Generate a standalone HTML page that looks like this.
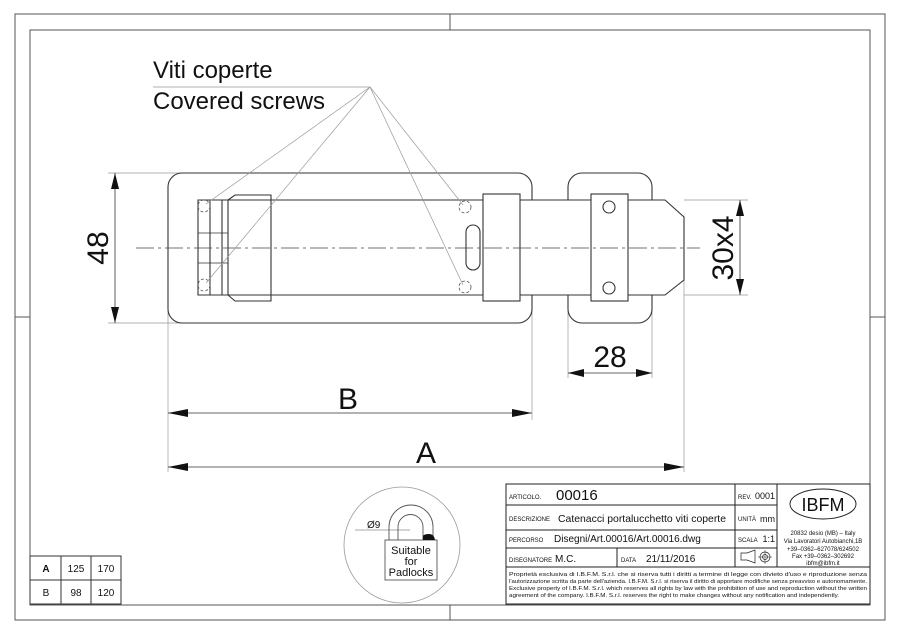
<!DOCTYPE html>
<html><head><meta charset="utf-8"><style>
html,body{margin:0;padding:0;background:#fff}
svg{display:block}
text{font-family:"Liberation Sans",sans-serif;fill:#111}
</style></head><body>
<svg width="900" height="635" viewBox="0 0 900 635" xmlns="http://www.w3.org/2000/svg">
<g fill="none" stroke="#555" stroke-width="1">
<rect x="15" y="14" width="870" height="606"/>
<rect x="30" y="30" width="840" height="575"/>
<line x1="450" y1="14" x2="450" y2="30"/><line x1="450" y1="605" x2="450" y2="620"/>
<line x1="15" y1="317" x2="30" y2="317"/><line x1="870" y1="317" x2="885" y2="317"/>
</g>
<!-- labels -->
<text x="153" y="78" font-size="24">Viti coperte</text>
<text x="153" y="109" font-size="24">Covered screws</text>
<!-- extension / dim lines -->
<g stroke="#999" stroke-width="0.7">
<line x1="108" y1="173" x2="182" y2="173"/><line x1="108" y1="323" x2="182" y2="323"/>
<line x1="684" y1="200" x2="748" y2="200"/><line x1="684" y1="295" x2="748" y2="295"/>
<line x1="168" y1="310" x2="168" y2="472"/><line x1="532" y1="310" x2="532" y2="420"/>
<line x1="568" y1="310" x2="568" y2="378"/><line x1="652" y1="310" x2="652" y2="378"/>
<line x1="684" y1="280" x2="684" y2="472"/>
</g>
<g stroke="#333" stroke-width="0.8">
<line x1="115" y1="173" x2="115" y2="323"/>
<line x1="740" y1="200" x2="740" y2="295"/>
<line x1="568" y1="373" x2="652" y2="373"/>
<line x1="168" y1="413" x2="532" y2="413"/>
<line x1="168" y1="467" x2="684" y2="467"/>
</g>
<g fill="#111">
<polygon points="115,173 111,189 119,189"/><polygon points="115,323 111,307 119,307"/>
<polygon points="740,200 736,216 744,216"/><polygon points="740,295 736,279 744,279"/>
<polygon points="568,373 584,369 584,377"/><polygon points="652,373 636,369 636,377"/>
<polygon points="168,413 188,409 188,417"/><polygon points="532,413 512,409 512,417"/>
<polygon points="168,467 188,463 188,471"/><polygon points="684,467 664,463 664,471"/>
</g>
<text x="0" y="0" font-size="30" text-anchor="middle" transform="translate(108,248) rotate(-90)">48</text>
<text x="0" y="0" font-size="30" text-anchor="middle" transform="translate(733,248) rotate(-90)">30x4</text>
<text x="610" y="367" font-size="30" text-anchor="middle">28</text>
<text x="348" y="409" font-size="30" text-anchor="middle">B</text>
<text x="426" y="463" font-size="30" text-anchor="middle">A</text>
<!-- part -->
<g fill="none" stroke="#333" stroke-width="1.1">
<rect x="168" y="173" width="364" height="150" rx="14"/>
<rect x="568" y="173" width="84" height="150" rx="14"/>
</g>
<g fill="#fff" stroke="#333" stroke-width="1.1">
<polygon points="198,200 665,200 684,217 684,280 665,295 198,295"/>
</g>
<g fill="none" stroke="#333" stroke-width="1.1">
<line x1="210" y1="200" x2="210" y2="295"/>
<line x1="222" y1="200" x2="222" y2="295"/>
<line x1="228" y1="200" x2="228" y2="295"/>
<line x1="198" y1="233" x2="228" y2="233" stroke-width="0.7"/><line x1="198" y1="263" x2="228" y2="263" stroke-width="0.7"/>
<polyline points="228,200 235,195 271,195 271,301 235,301 228,295"/>
<rect x="483" y="194" width="37" height="107" fill="#fff"/>
<rect x="591" y="194" width="37" height="107" fill="#fff"/>
<rect x="466" y="225" width="14" height="45" rx="7"/>
<circle cx="609" cy="207" r="6"/><circle cx="609" cy="288" r="6"/>
</g>
<g fill="none" stroke="#555" stroke-width="0.8" stroke-dasharray="3,2">
<circle cx="465" cy="207" r="6"/><circle cx="465" cy="287" r="6"/>
<circle cx="204" cy="206" r="6"/><circle cx="204" cy="285" r="6"/>
</g>
<line x1="136" y1="248" x2="700" y2="248" stroke="#444" stroke-width="0.7" stroke-dasharray="18,4,3,4"/>
<g stroke="#999" stroke-width="0.7" fill="none">
<line x1="153" y1="87" x2="370" y2="87"/>
<line x1="370" y1="87" x2="206" y2="204"/>
<line x1="370" y1="87" x2="206" y2="283"/>
<line x1="370" y1="87" x2="463" y2="205"/>
<line x1="370" y1="87" x2="463" y2="285"/>
</g>
<!-- padlock detail -->
<circle cx="402" cy="545" r="58" fill="none" stroke="#999" stroke-width="0.8"/>
<g fill="none" stroke="#555" stroke-width="0.9">
<path d="M389,540 V527 A22,22 0 0 1 433,527 V536"/>
<path d="M398,540 V527 A12.5,12.5 0 0 1 423,527 V540"/>
<rect x="385" y="540" width="52" height="40" fill="#fff"/>
<line x1="355" y1="530" x2="410" y2="530" stroke-width="0.6"/>
</g>
<path d="M423,540 V536 Q424,534 429,534 Q434,534 435,540 Z" fill="#111"/>
<text x="367" y="528" font-size="10">Ø9</text>
<text x="411" y="554" font-size="11" text-anchor="middle">Suitable</text>
<text x="411" y="565" font-size="11" text-anchor="middle">for</text>
<text x="411" y="576" font-size="11" text-anchor="middle">Padlocks</text>
<!-- small table -->
<g fill="none" stroke="#333" stroke-width="1">
<rect x="30" y="556" width="91" height="48"/>
<line x1="30" y1="580" x2="121" y2="580"/>
<line x1="61" y1="556" x2="61" y2="604"/><line x1="91" y1="556" x2="91" y2="604"/>
</g>
<g font-size="10">
<text x="46" y="572" text-anchor="middle" font-weight="bold">A</text>
<text x="76" y="572" text-anchor="middle">125</text>
<text x="106" y="572" text-anchor="middle">170</text>
<text x="46" y="596" text-anchor="middle">B</text>
<text x="76" y="596" text-anchor="middle">98</text>
<text x="106" y="596" text-anchor="middle">120</text>
</g>
<!-- title block -->
<g fill="none" stroke="#222" stroke-width="1">
<rect x="506" y="484" width="364" height="120"/>
<line x1="506" y1="505" x2="777" y2="505"/>
<line x1="506" y1="530" x2="777" y2="530"/>
<line x1="506" y1="548" x2="777" y2="548"/>
<line x1="506" y1="567" x2="870" y2="567"/>
<line x1="735" y1="484" x2="735" y2="567"/>
<line x1="777" y1="484" x2="777" y2="567"/>
<line x1="617" y1="548" x2="617" y2="567"/>
<ellipse cx="823" cy="504" rx="33" ry="15"/>
<path d="M741,553 h6 l8,-3 v13 l-8,-3 h-6 z" stroke-width="0.7"/>
<circle cx="765" cy="557" r="5" stroke-width="0.7"/><circle cx="765" cy="557" r="2.5" stroke-width="0.7"/>
<line x1="758" y1="557" x2="772" y2="557" stroke-width="0.5"/><line x1="765" y1="550" x2="765" y2="564" stroke-width="0.5"/>
</g>
<g font-size="6">
<text x="509" y="499">ARTICOLO.</text>
<text x="509" y="521">DESCRIZIONE</text>
<text x="509" y="542">PERCORSO</text>
<text x="509" y="562">DISEGNATORE</text>
<text x="621" y="562">DATA</text>
<text x="738" y="499">REV.</text>
<text x="738" y="521">UNITÀ</text>
<text x="738" y="542">SCALA</text>
</g>
<text x="556" y="500" font-size="15" fill="#333">00016</text>
<text x="558" y="522" font-size="10.5" textLength="168" lengthAdjust="spacingAndGlyphs">Catenacci portalucchetto viti coperte</text>
<text x="554" y="542" font-size="10">Disegni/Art.00016/Art.00016.dwg</text>
<text x="555" y="562" font-size="10">M.C.</text>
<text x="646" y="562" font-size="10">21/11/2016</text>
<text x="775" y="499" font-size="9" text-anchor="end">0001</text>
<text x="775" y="522" font-size="9" text-anchor="end">mm</text>
<text x="775" y="542" font-size="9" text-anchor="end">1:1</text>
<text x="823" y="511" font-size="18" text-anchor="middle" font-family="Liberation Serif" fill="#333">IBFM</text>
<g font-size="6" text-anchor="middle">
<text x="823" y="535">20832 desio (MB) – Italy</text>
<text x="823" y="543">Via Lavoratori Autobianchi,1B</text>
<text x="823" y="551">+39–0362–627078/624502</text>
<text x="823" y="558">Fax +39–0362–302692</text>
<text x="823" y="565">ibfm@ibfm.it</text>
</g>
<g font-size="5.3">
<text x="509" y="576" textLength="358" lengthAdjust="spacingAndGlyphs">Proprietà esclusiva di I.B.F.M. S.r.l. che si riserva tutti i diritti a termine di legge con divieto d'uso e riproduzione senza</text>
<text x="509" y="583" textLength="358" lengthAdjust="spacingAndGlyphs">l'autorizzazione scritta da parte dell'azienda. I.B.F.M. S.r.l. si riserva il diritto di apportare modifiche senza preavviso e autonomamente.</text>
<text x="509" y="590" textLength="358" lengthAdjust="spacingAndGlyphs">Exclusive property of I.B.F.M. S.r.l. which reserves all rights by law with the prohibition of use and reproduction without the written</text>
<text x="509" y="597" textLength="330" lengthAdjust="spacingAndGlyphs">agreement of the company. I.B.F.M. S.r.l. reserves the right to make changes without any notification and independently.</text>
</g>
</svg>
</body></html>
